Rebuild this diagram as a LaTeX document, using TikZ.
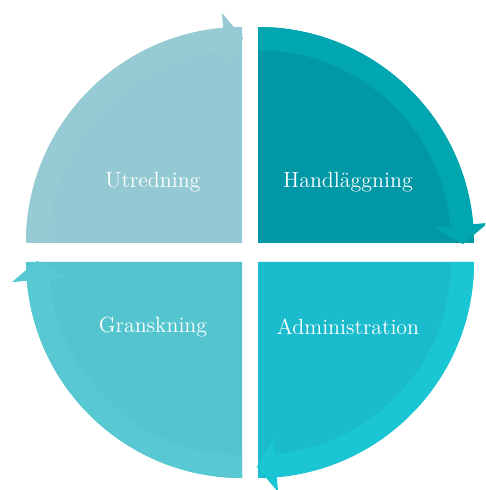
\documentclass[tikz,border=0pt]{standalone}
\usetikzlibrary{calc}
\definecolor{utrfill}{HTML}{93C9D2}
\definecolor{utrband}{HTML}{97CBD4}
\definecolor{handfill}{HTML}{0098A6}
\definecolor{handband}{HTML}{00A6B0}
\definecolor{admfill}{HTML}{19BBCC}
\definecolor{admband}{HTML}{1BC6D4}
\definecolor{granfill}{HTML}{54C5CF}
\definecolor{granband}{HTML}{58C9D2}
\begin{document}
\begin{tikzpicture}[x=0.2mm,y=0.2mm,
	lbl/.style={text=white,font=\fontsize{12.5}{15}\selectfont}]
	\useasboundingbox (-250,-237.5) rectangle (235,252.5);
	\clip (-250,-237.5) rectangle (235,252.5);

	% one quarter disc and its arrow band per step, turned round the centre
	\foreach \sx/\sy/\rot/\fillc/\bandc in {8/9.5/0/handfill/handband,-8/9.5/90/utrfill/utrband,-8/-9.5/180/granfill/granband,8/-9.5/270/admfill/admband}{
		\begin{scope}[shift={(\sx,\sy)},rotate=\rot]
			\fill[\fillc] (0,0) -- (90:216) arc[start angle=90,end angle=0,radius=216] -- cycle;
			\fill[\bandc] (90:216) arc[start angle=90,end angle=5,radius=216] -- (5:231) -- ($(5:204)+(-85:19)$) -- (5:177) -- (5:193) arc[start angle=5,end angle=90,radius=193] -- cycle;
		\end{scope}
	}

	\node[lbl] (utr) at (-97,70.5) {Utredning};
	\node[lbl] (hand) at (98,70.5) {Handläggning};
	\node[lbl] (gran) at (-97,-74.5) {Granskning};
	\node[lbl] (adm) at (98,-74.5) {Administration};
\end{tikzpicture}
\end{document}
